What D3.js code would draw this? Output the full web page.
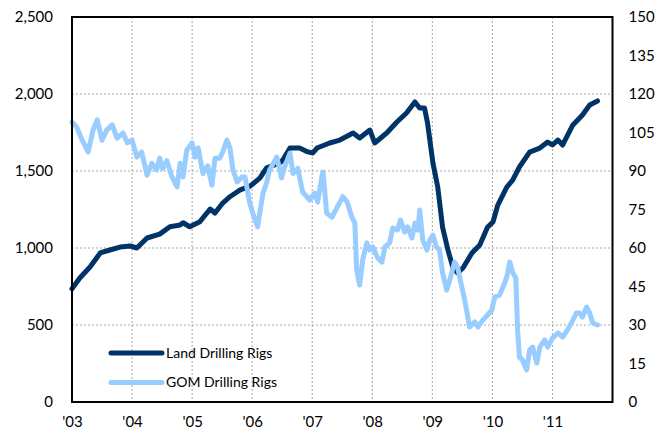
<!DOCTYPE html>
<html>
<head>
<meta charset="utf-8">
<script src="https://cdn.jsdelivr.net/npm/d3@7/dist/d3.min.js"></script>
<style>
  body { margin: 0; background: #fff; }
  text { font-family: Lato, "Open Sans", sans-serif; fill: #000; }
</style>
</head>
<body>
<div class="svgContainer"></div>
<script>
let landYear = [2003.00, 2003.13, 2003.30, 2003.47, 2003.63, 2003.80, 2003.97, 2004.08, 2004.25, 2004.46,
    2004.63, 2004.80, 2004.85, 2004.96, 2005.13, 2005.30, 2005.38, 2005.51, 2005.63, 2005.80,
    2005.96, 2006.13, 2006.24, 2006.46, 2006.51, 2006.63, 2006.79, 2006.91, 2007.01, 2007.08,
    2007.29, 2007.46, 2007.68, 2007.79, 2007.96, 2008.04, 2008.24, 2008.41, 2008.57, 2008.71,
    2008.79, 2008.87, 2008.92, 2009.01, 2009.09, 2009.17, 2009.26, 2009.34, 2009.42, 2009.51,
    2009.66, 2009.79, 2009.92, 2010.01, 2010.09, 2010.24, 2010.34, 2010.45, 2010.62, 2010.79,
    2010.92, 2011.00, 2011.09, 2011.17, 2011.34, 2011.50, 2011.62, 2011.75];
let landRigs = [735, 805, 877, 968, 987, 1006, 1013, 1000, 1065, 1090,
    1138, 1149, 1164, 1138, 1171, 1253, 1227, 1292, 1333, 1377,
    1400, 1455, 1520, 1552, 1571, 1649, 1649, 1626, 1617, 1649,
    1682, 1701, 1747, 1714, 1766, 1682, 1747, 1818, 1877, 1948,
    1909, 1909, 1812, 1552, 1396, 1136, 987, 877, 838, 870,
    968, 1020, 1136, 1169, 1279, 1396, 1442, 1526, 1623, 1649,
    1688, 1669, 1701, 1669, 1799, 1864, 1929, 1955];

let gomYear = [2003.00, 2003.02, 2003.08, 2003.17, 2003.27, 2003.35, 2003.42, 2003.50, 2003.58, 2003.67,
    2003.75, 2003.85, 2003.92, 2004.00, 2004.08, 2004.16, 2004.25, 2004.33, 2004.41, 2004.46,
    2004.51, 2004.58, 2004.66, 2004.75, 2004.80, 2004.85, 2004.91, 2005.00, 2005.05, 2005.10,
    2005.18, 2005.26, 2005.33, 2005.38, 2005.46, 2005.51, 2005.58, 2005.63, 2005.68, 2005.75,
    2005.83, 2005.88, 2005.96, 2006.01, 2006.09, 2006.18, 2006.24, 2006.29, 2006.41, 2006.49,
    2006.54, 2006.63, 2006.68, 2006.76, 2006.84, 2006.96, 2007.04, 2007.09, 2007.16, 2007.18,
    2007.24, 2007.33, 2007.41, 2007.51, 2007.58, 2007.66, 2007.71, 2007.74, 2007.79, 2007.84,
    2007.91, 2007.96, 2008.01, 2008.09, 2008.16, 2008.21, 2008.29, 2008.34, 2008.42, 2008.47,
    2008.54, 2008.59, 2008.66, 2008.71, 2008.76, 2008.79, 2008.84, 2008.91, 2008.96, 2009.01,
    2009.07, 2009.12, 2009.17, 2009.24, 2009.29, 2009.37, 2009.42, 2009.49, 2009.54, 2009.57,
    2009.62, 2009.71, 2009.76, 2009.84, 2009.92, 2009.99, 2010.04, 2010.12, 2010.17, 2010.24,
    2010.29, 2010.34, 2010.39, 2010.42, 2010.45, 2010.50, 2010.57, 2010.62, 2010.67, 2010.74,
    2010.79, 2010.87, 2010.92, 2011.00, 2011.09, 2011.17, 2011.25, 2011.34, 2011.40, 2011.45,
    2011.50, 2011.57, 2011.62, 2011.67, 2011.75];
let gomRigs = [109, 108.7, 107, 102, 97.4, 106, 109.9, 102, 106, 108,
    102.8, 104.8, 101, 102, 95.4, 97.4, 88.4, 93, 90.4, 95,
    91, 94, 88, 83.8, 93, 87.7, 98, 101, 95.4, 99,
    89, 92, 84.5, 95, 95, 97.4, 102, 99, 90.4, 85.7,
    87.7, 87.7, 77.5, 73.6, 68.2, 81.4, 85.3, 90.4, 95.4, 87.3,
    91.6, 97, 89, 91, 81.8, 78.7, 81.4, 77.9, 87.7, 89.6,
    73.6, 72, 75.6, 80, 78, 72, 69.7, 51.4, 45.6, 55.3,
    62, 59.2, 60.4, 56.1, 54.5, 60.4, 62, 67.8, 67, 70.9,
    66.2, 68.2, 63.9, 69.7, 67, 74.8, 63.1, 59.2, 63.1, 65,
    60.4, 59.2, 50.3, 43.6, 47.5, 54.5, 52.6, 44.8, 39.7, 35.8,
    29.2, 31.2, 29.2, 31.9, 33.9, 35.8, 40.9, 41.7, 44.4, 48.7,
    54.5, 50.3, 48.3, 28, 17.5, 16.4, 12.5, 20.3, 21.4, 15.2,
    21.4, 24.2, 21.4, 24.9, 26.9, 25.3, 28, 31.9, 34.7, 34.7,
    33.1, 37, 34.7, 30.8, 30];

let yearTicks = [2003, 2004, 2005, 2006, 2007, 2008, 2009, 2010, 2011];
let yearLabels = ["'03", "'04", "'05", "'06", "'07", "'08", "'09", "'10", "'11"];
let leftTicks = [0, 500, 1000, 1500, 2000, 2500];
let rightTicks = [0, 15, 30, 45, 60, 75, 90, 105, 120, 135, 150];
let seriesNames = ["Land Drilling Rigs", "GOM Drilling Rigs"];
let seriesColors = ["#003366", "#99ccff"];

let w = 668;
let h = 438;
let plotLeft = 72;
let plotRight = 612.5;
let plotTop = 17;
let plotBottom = 402;

let xScale = d3.scaleLinear().domain([2003, 2012]).range([plotLeft, plotRight]);
let yLeft = d3.scaleLinear().domain([0, 2500]).range([plotBottom, plotTop]);
let yRight = d3.scaleLinear().domain([0, 150]).range([plotBottom, plotTop]);

const svg = d3.select(".svgContainer")
    .append("svg")
    .attr("width", w)
    .attr("height", h)
    .style("display", "block")
    .style("background-color", "#fff");

svg.append("g")
    .selectAll("line")
    .data(leftTicks.slice(1, -1))
    .enter()
    .append("line")
    .attr("x1", plotLeft)
    .attr("x2", plotRight)
    .attr("y1", (d) => yLeft(d))
    .attr("y2", (d) => yLeft(d))
    .attr("stroke", "#a6a6a6")
    .attr("stroke-width", 1)
    .attr("stroke-dasharray", "2,2");

svg.append("g")
    .selectAll("line")
    .data(yearTicks.slice(1))
    .enter()
    .append("line")
    .attr("x1", (d) => xScale(d))
    .attr("x2", (d) => xScale(d))
    .attr("y1", plotTop)
    .attr("y2", plotBottom)
    .attr("stroke", "#a6a6a6")
    .attr("stroke-width", 1)
    .attr("stroke-dasharray", "2,2");

const yAxisL = d3.axisLeft(yLeft).tickValues(leftTicks).tickFormat(d3.format(",")).tickSize(0).tickPadding(19);
const yAxisR = d3.axisRight(yRight).tickValues(rightTicks).tickSize(0).tickPadding(16);
const xAxis = d3.axisBottom(xScale).tickValues(yearTicks).tickFormat((d, i) => yearLabels[i]).tickSize(0).tickPadding(14);

svg.append("g")
    .attr("id", "y-axis-left")
    .attr("transform", `translate(${plotLeft}, 0)`)
    .call(yAxisL)
    .call((g) => g.select(".domain").remove())
    .selectAll("text")
    .style("font-size", "15px")
    .style("font-family", "Lato, sans-serif");

svg.append("g")
    .attr("id", "y-axis-right")
    .attr("transform", `translate(${plotRight}, 0)`)
    .call(yAxisR)
    .call((g) => g.select(".domain").remove())
    .selectAll("text")
    .style("font-size", "15px")
    .style("font-family", "Lato, sans-serif");

svg.append("g")
    .attr("id", "x-axis")
    .attr("transform", `translate(0, ${plotBottom})`)
    .call(xAxis)
    .call((g) => g.select(".domain").remove())
    .selectAll("text")
    .style("font-size", "15px")
    .style("font-family", "Lato, sans-serif");

let landLine = d3.line()
    .x((d, i) => xScale(landYear[i]))
    .y((d) => yLeft(d));

let gomLine = d3.line()
    .x((d, i) => xScale(gomYear[i]))
    .y((d) => yRight(d));

svg.append("path")
    .datum(landRigs)
    .attr("d", landLine)
    .attr("fill", "none")
    .attr("stroke", seriesColors[0])
    .attr("stroke-width", 5)
    .attr("stroke-linejoin", "round")
    .attr("stroke-linecap", "round");

svg.append("path")
    .datum(gomRigs)
    .attr("d", gomLine)
    .attr("fill", "none")
    .attr("stroke", seriesColors[1])
    .attr("stroke-width", 5)
    .attr("stroke-linejoin", "round")
    .attr("stroke-linecap", "round");

svg.append("rect")
    .attr("x", plotLeft)
    .attr("y", plotTop)
    .attr("width", plotRight - plotLeft)
    .attr("height", plotBottom - plotTop)
    .attr("fill", "none")
    .attr("stroke", "#000")
    .attr("stroke-width", 2);

let legend = svg.append("g")
    .selectAll("g")
    .data(seriesNames)
    .enter()
    .append("g")
    .attr("transform", (d, i) => `translate(111, ${353 + i * 29.5})`);

legend.append("line")
    .attr("x1", 0)
    .attr("x2", 51)
    .attr("stroke", (d, i) => seriesColors[i])
    .attr("stroke-width", 5)
    .attr("stroke-linecap", "round");

legend.append("text")
    .attr("x", 55)
    .attr("dy", "0.35em")
    .style("font-size", "14px")
    .text((d) => d);
</script>
</body>
</html>
